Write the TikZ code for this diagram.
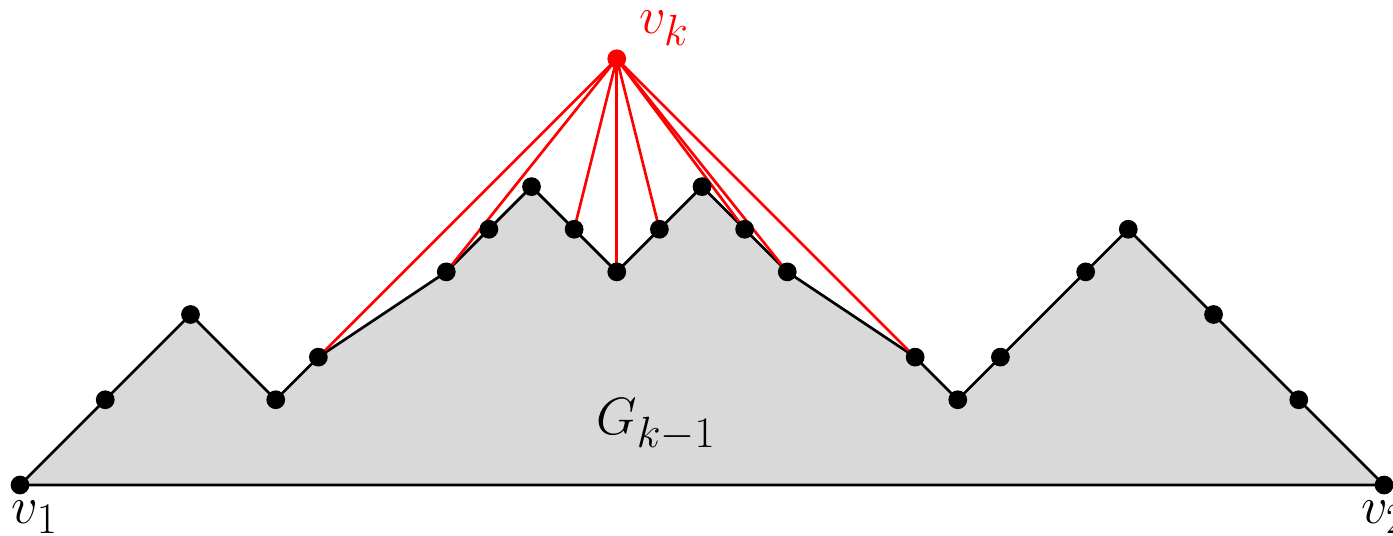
\documentclass[tikz,border=0pt]{standalone}
\begin{document}
\begin{tikzpicture}[x=1cm,y=1cm,
  vtx/.style={circle,fill=black,inner sep=0pt,minimum size=0.44cm},
  rvtx/.style={circle,fill=red,inner sep=0pt,minimum size=0.44cm},
  edge/.style={line width=1.8pt,black,line join=round},
  redge/.style={line width=1.8pt,red},
  lbl/.style={inner sep=0pt,font=\Huge,scale=1.407}]
\useasboundingbox (-0.469,-1.173) rectangle (32.21,11.378);
\foreach \n/\x/\y in {0/0/0,1/2/2,2/4/4,3/6/2,4/7/3,5/10/5,6/11/6,7/12/7,8/13/6,9/14/5,10/15/6,11/16/7,12/17/6,13/18/5,14/21/3,15/22/2,16/23/3,17/25/5,18/26/6,19/28/4,20/30/2,21/32/0}
  \coordinate (p\n) at (\x,\y);
\coordinate (vk) at (14,10);
\fill[gray!30] (p0) -- (p1) -- (p2) -- (p3) -- (p4) -- (p5) -- (p6) -- (p7) -- (p8) -- (p9) -- (p10) -- (p11) -- (p12) -- (p13) -- (p14) -- (p15) -- (p16) -- (p17) -- (p18) -- (p19) -- (p20) -- (p21) -- cycle;
\draw[edge] (p0) -- (p1) -- (p2) -- (p3) -- (p4) -- (p5) -- (p6) -- (p7) -- (p8) -- (p9) -- (p10) -- (p11) -- (p12) -- (p13) -- (p14) -- (p15) -- (p16) -- (p17) -- (p18) -- (p19) -- (p20) -- (p21) -- cycle;
\foreach \t in {4,5,8,9,10,12,13,14}
  \draw[redge] (vk) -- (p\t);
\foreach \n in {0,...,21}
  \node[vtx] (d\n) at (p\n) {};
\node[rvtx] (dvk) at (vk) {};
\node[lbl] (l1) at (0.35,-0.75) {$v_1$};
\node[lbl] (l2) at (32.0,-0.75) {$v_2$};
\node[lbl,text=red] (lk) at (15.11,10.72) {$v_k$};
\node[lbl] (lg) at (14.92,1.41) {$G_{k-1}$};
\end{tikzpicture}
\end{document}
